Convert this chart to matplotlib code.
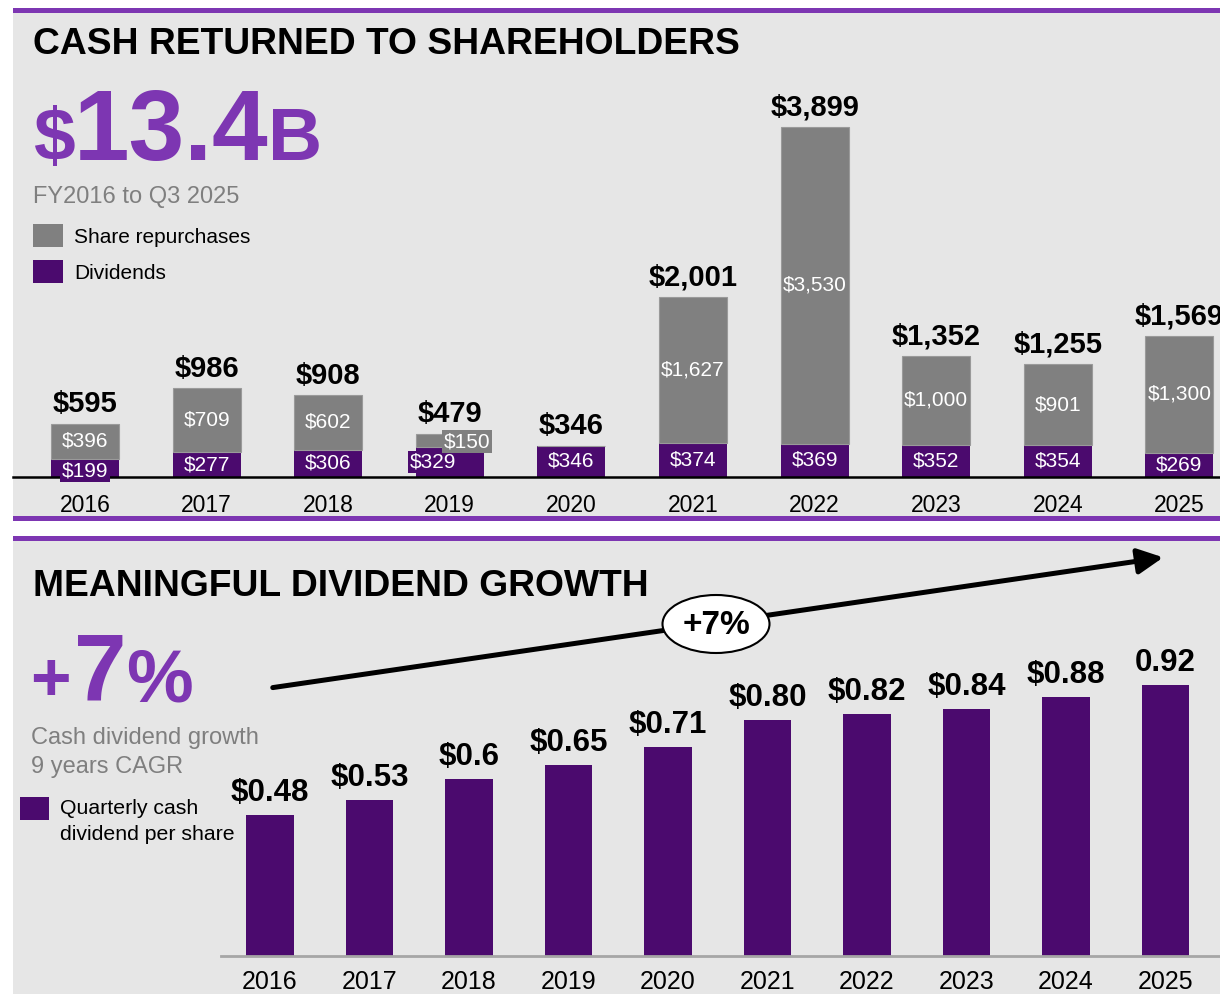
import matplotlib
matplotlib.use("Agg")
import matplotlib.pyplot as plt
from matplotlib.patches import Rectangle, Ellipse, FancyArrowPatch

plt.rcParams["font.family"] = ["Liberation Sans", "DejaVu Sans"]

# data
years = ["2016", "2017", "2018", "2019", "2020", "2021", "2022", "2023", "2024", "2025"]
dividends = [199, 277, 306, 329, 346, 374, 369, 352, 354, 269]
repurchases = [396, 709, 602, 150, 0, 1627, 3530, 1000, 901, 1300]
totals = [595, 986, 908, 479, 346, 2001, 3899, 1352, 1255, 1569]
dps = [0.48, 0.53, 0.60, 0.65, 0.71, 0.80, 0.82, 0.84, 0.88, 0.92]
dps_labels = ["$0.48", "$0.53", "$0.6", "$0.65", "$0.71", "$0.80", "$0.82", "$0.84", "$0.88", "0.92"]

PURPLE = "#7d36b2"
DARK = "#4b0a6e"
GRAY = "#808080"
PANEL = "#e6e6e6"

W, H = 1220, 994
fig = plt.figure(figsize=(W / 100, H / 100), dpi=100)


def fx(px):
    return px / W


def fy(py):
    return 1 - py / H


def box(x0, y0, x1, y1, color, z=0):
    fig.add_artist(Rectangle((fx(x0), fy(y1)), fx(x1) - fx(x0), fy(y0) - fy(y1),
                             transform=fig.transFigure, color=color, zorder=z, lw=0))


# panels and purple rules
box(13, 13, 1220, 516, PANEL)
box(13, 541, 1220, 994, PANEL)
box(13, 8, 1220, 13, PURPLE)
box(13, 516, 1220, 521, PURPLE)
box(13, 536, 1220, 541, PURPLE)

# ---------------- top panel ----------------
ax1 = fig.add_axes([fx(13), fy(477), fx(1220) - fx(13), fy(80) - fy(477)])
ax1.set_facecolor("none")
x = list(range(len(years)))
ax1.bar(x, dividends, width=0.56, color=DARK, zorder=2)
ax1.bar(x, repurchases, bottom=dividends, width=0.56, color=GRAY, edgecolor="#9a9a9a",
        linewidth=0.8, zorder=2)
ax1.set_xlim((13 - 85) / 121.6, (1220 - 85) / 121.6)
ax1.set_ylim(0, 397 / 0.0898)
for s in ["top", "left", "right"]:
    ax1.spines[s].set_visible(False)
ax1.spines["bottom"].set_linewidth(1.8)
ax1.set_yticks([])
ax1.set_xticks(x)
ax1.set_xticklabels(years, fontsize=16.5)
ax1.tick_params(axis="x", length=0, pad=12)

inner = dict(ha="center", va="center", color="white", fontsize=15, zorder=3)
for i in x:
    # the 2025 total runs off the right edge, as in the source slide
    ax1.annotate(f"${totals[i]:,}", (i, totals[i]), xytext=(0, 4), textcoords="offset points",
                 ha="center", va="bottom", fontsize=21, fontweight="bold", zorder=4)
    d, r = dividends[i], repurchases[i]
    if i == 0:
        ax1.text(i, d / 2 - 30, f"${d}", bbox=dict(boxstyle="square,pad=0.08", fc=DARK, ec="none"), **inner)
        ax1.text(i, d + r / 2, f"${r}", **inner)
    elif i == 3:
        ax1.text(i - 0.14, d / 2, f"${d}", bbox=dict(boxstyle="square,pad=0.08", fc=DARK, ec="none"), **inner)
        ax1.text(i + 0.14, d + r / 2 - 10, f"${r}", bbox=dict(boxstyle="square,pad=0.08", fc=GRAY, ec="none"),
                 **inner)
    else:
        ax1.text(i, d / 2, f"${d}", **inner)
        if r > 0:
            ax1.text(i, d + r / 2, f"${r:,}", **inner)

fig.text(fx(33), fy(44), "CASH RETURNED TO SHAREHOLDERS", fontsize=26.8, fontweight="bold",
         va="center", ha="left")
fig.text(fx(33), fy(160), "$", fontsize=54, fontweight="bold", color=PURPLE, va="baseline")
fig.text(fx(74), fy(160), "13.4", fontsize=72, fontweight="bold", color=PURPLE, va="baseline")
fig.text(fx(268), fy(160), "B", fontsize=54, fontweight="bold", color=PURPLE, va="baseline")
fig.text(fx(33), fy(197), "FY2016 to Q3 2025", fontsize=17, color="#7f7f7f", va="center")
box(33, 224, 63, 247, GRAY, 3)
fig.text(fx(74), fy(237), "Share repurchases", fontsize=15, va="center")
box(33, 260, 63, 283, DARK, 3)
fig.text(fx(74), fy(273), "Dividends", fontsize=15, va="center")

# ---------------- bottom panel ----------------
ax2 = fig.add_axes([fx(221), fy(956), fx(1220) - fx(221), fy(560) - fy(956)])
ax2.set_facecolor("none")
ax2.bar(x, dps, width=0.48, color=DARK, zorder=2)
ax2.set_xlim((221 - 270) / 99.5, (1220 - 270) / 99.5)
ax2.set_ylim(0, 396 / 294.6)
for s in ["top", "left", "right"]:
    ax2.spines[s].set_visible(False)
ax2.spines["bottom"].set_color("#a6a6a6")
ax2.spines["bottom"].set_linewidth(2)
ax2.set_yticks([])
ax2.set_xticks(x)
ax2.set_xticklabels(years, fontsize=18)
ax2.tick_params(axis="x", length=0, pad=10)
for i in x:
    ax2.annotate(dps_labels[i], (i, dps[i]), xytext=(0, 5), textcoords="offset points",
                 ha="center", va="bottom", fontsize=22.5, fontweight="bold")

fig.text(fx(33), fy(586), "MEANINGFUL DIVIDEND GROWTH", fontsize=26.8, fontweight="bold",
         va="center", ha="left")
fig.text(fx(30), fy(700), "+", fontsize=50, fontweight="bold", color=PURPLE, va="baseline")
fig.text(fx(74), fy(701), "7", fontsize=68, fontweight="bold", color=PURPLE, va="baseline")
fig.text(fx(126), fy(701), "%", fontsize=54, fontweight="bold", color=PURPLE, va="baseline")
fig.text(fx(31), fy(738), "Cash dividend growth", fontsize=17, color="#7f7f7f", va="center")
fig.text(fx(31), fy(767), "9 years CAGR", fontsize=17, color="#7f7f7f", va="center")
box(20, 797, 49, 820, DARK, 3)
fig.text(fx(60), fy(809), "Quarterly cash", fontsize=15.3, va="center")
fig.text(fx(60), fy(835), "dividend per share", fontsize=15.3, va="center")

fig.add_artist(FancyArrowPatch((fx(270), fy(688)), (fx(1166), fy(557)), transform=fig.transFigure,
                               arrowstyle="-|>,head_length=0.7,head_width=0.35", mutation_scale=22,
                               lw=3.6, color="black", zorder=5))
fig.add_artist(Ellipse((fx(716), fy(624)), 107 / W, 58 / H, transform=fig.transFigure,
                       fc="white", ec="black", lw=1.5, zorder=6))
fig.text(fx(717), fy(625), "+7%", fontsize=24, fontweight="bold", ha="center", va="center", zorder=7)

fig.savefig("out.png", dpi=100, facecolor="white")
